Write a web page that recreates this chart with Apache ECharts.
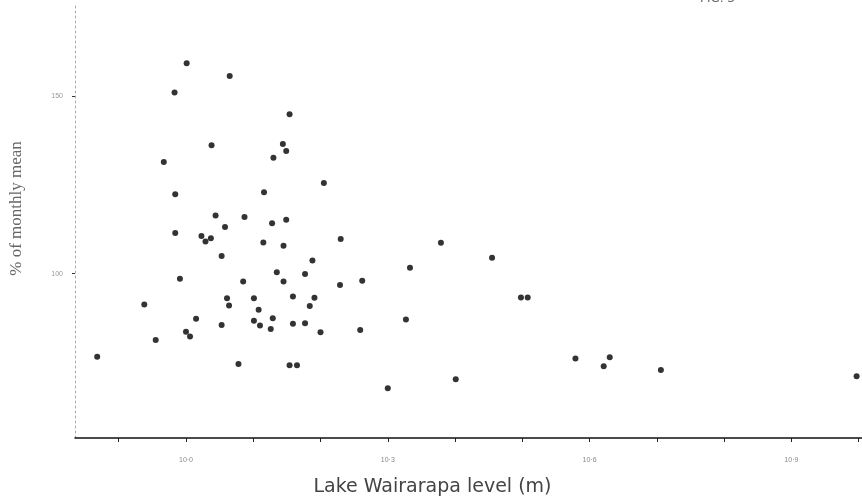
<!DOCTYPE html>
<html>
<head>
<meta charset="utf-8">
<script src="https://cdn.jsdelivr.net/npm/echarts@6/dist/echarts.min.js"></script>
<style>html,body{margin:0;padding:0;background:#fff}#c{width:862px;height:502px}</style>
</head>
<body>
<div id="c"></div>
<script>
// Lake level (m)
const lakeLevel = [
  10.001, 10.065, 9.983, 10.154, 10.038, 10.144, 10.149, 10.130, 9.967, 10.205,
  9.984, 10.116, 10.044, 10.087, 10.128, 10.149, 10.058, 9.984, 10.023, 10.029,
  10.037, 10.230, 10.115, 10.145, 10.053, 10.188, 10.135, 10.177, 9.991, 10.085,
  10.145, 10.229, 10.262, 10.061, 10.064, 10.101, 10.159, 10.191, 10.184, 10.108,
  9.938, 10.015, 10.053, 10.101, 10.110, 10.129, 10.126, 10.159, 10.177, 10.200,
  10.259, 10.000, 10.006, 9.955, 9.868, 10.078, 10.154, 10.165, 10.300, 10.333,
  10.379, 10.327, 10.401, 10.455, 10.498, 10.508, 10.579, 10.621, 10.630, 10.706,
  10.997
];
// % of monthly mean
const pctMean = [
  159.4, 155.8, 151.1, 145.0, 136.2, 136.6, 134.6, 132.7, 131.5, 125.6,
  122.4, 123.0, 116.4, 116.0, 114.2, 115.2, 113.2, 111.5, 110.6, 109.1,
  110.0, 109.8, 108.8, 107.9, 105.0, 103.7, 100.4, 99.9, 98.6, 97.8,
  97.8, 96.8, 98.0, 93.1, 91.0, 93.1, 93.6, 93.2, 90.9, 89.8,
  91.3, 87.3, 85.5, 86.7, 85.4, 87.4, 84.4, 85.9, 86.0, 83.5,
  84.1, 83.6, 82.3, 81.3, 76.6, 74.5, 74.2, 74.2, 67.7, 101.7,
  108.7, 87.1, 70.2, 104.5, 93.3, 93.3, 76.1, 73.9, 76.4, 72.8,
  71.1
];
const xTicks = [9.9, 10.0, 10.1, 10.2, 10.3, 10.4, 10.5, 10.6, 10.7, 10.8, 10.9, 11.0];
const xLabels = [10.0, 10.3, 10.6, 10.9];
const yTicks = [100, 150];

const pts = lakeLevel.map((v, i) => [v, pctMean[i]]);
const chart = echarts.init(document.getElementById('c'), null, {renderer: 'canvas'});
chart.setOption({
  animation: false,
  backgroundColor: '#fff',
  grid: {left: 75, right: 0, top: 5, bottom: 62, containLabel: false},
  xAxis: {
    type: 'value', min: 9.835, max: 11.005,
    name: 'Lake Wairarapa level (m)', nameLocation: 'middle', nameGap: 40,
    nameTextStyle: {fontFamily: 'DejaVu Sans', fontSize: 19, color: '#444',
      padding: [0, 72, 0, 0]},
    axisLine: {show: true, lineStyle: {color: '#111', width: 1.5}},
    axisTick: {show: true, length: 4, customValues: xTicks, lineStyle: {color: '#222'}},
    axisLabel: {customValues: xLabels, fontSize: 7, color: '#888', margin: 19,
      formatter: v => v.toFixed(1).replace('.', '·')},
    splitLine: {show: false}
  },
  yAxis: {
    type: 'value', min: 53.65, max: 175.8,
    name: '% of monthly mean', nameLocation: 'middle', nameGap: 50,
    nameTextStyle: {fontFamily: 'Liberation Serif', fontSize: 17, color: '#666',
      padding: [0, 0, 0, 26]},
    axisLine: {show: true, lineStyle: {color: '#aaa', width: 1, type: [2, 3]}},
    axisTick: {show: true, length: 3, customValues: yTicks, lineStyle: {color: '#333'}},
    axisLabel: {customValues: yTicks, fontSize: 7, color: '#999', margin: 12},
    splitLine: {show: false}
  },
  graphic: [{type: 'text', left: 700, top: -7, style: {text: 'FIG. 3', fontSize: 12, fill: '#666', fontFamily: 'DejaVu Sans'}}],
  series: [{
    type: 'scatter', data: pts, symbol: 'circle', symbolSize: 6,
    itemStyle: {color: '#000'}
  }]
});
</script>
</body>
</html>
